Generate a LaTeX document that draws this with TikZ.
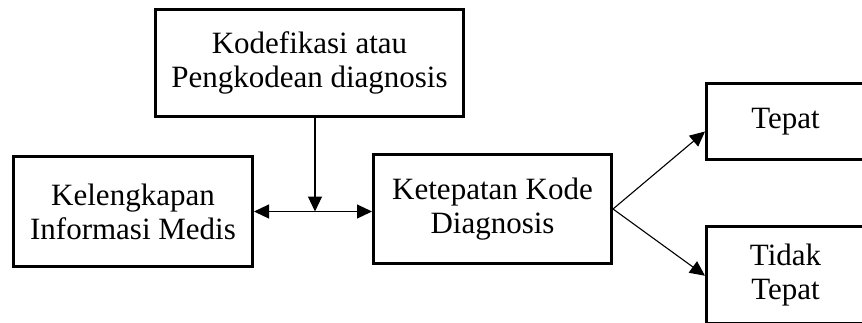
\documentclass[tikz,border=0pt]{standalone}
\usepackage{fontspec}
\setmainfont{Liberation Serif}
\usetikzlibrary{arrows.meta}
\tikzset{
  boxnode/.style={draw=black, line width=3pt, align=center, inner sep=0pt,
    font=\fontsize{31}{34}\selectfont},
  conn/.style={line width=1.1pt, -{Triangle[length=15pt,width=14pt]}},
}
\begin{document}
\begin{tikzpicture}[x=1pt,y=-1pt]
\useasboundingbox (0,0) rectangle (862,322);
\clip (0,0) rectangle (862,322);
\node[boxnode, minimum width=308pt, minimum height=107pt] (kode) at (309.5,63)
  {Kodefikasi atau\\Pengkodean diagnosis};
\node[boxnode, minimum width=239pt, minimum height=110pt] (kel) at (133,211.5)
  {Kelengkapan\\Informasi Medis};
\node[boxnode, minimum width=238pt, minimum height=109pt] (ket) at (492.5,209)
  {Ketepatan Kode\\Diagnosis};
\node[boxnode, minimum width=158pt, minimum height=76pt] (tepat) at (785.5,121.5)
  {Tepat};
\node[boxnode, minimum width=158pt, minimum height=96.5pt] (tidak) at (785.5,274.75)
  {Tidak\\Tepat};
\coordinate (j) at (315,211.5);
\draw[conn] (j |- kode.south) -- (j);
\draw[conn, {Triangle[length=15pt,width=14pt]}-{Triangle[length=15pt,width=14pt]}]
  (kel.east) -- (kel.east -| ket.west);
\draw[conn] (ket.east) -- ([yshift=-10pt]tepat.west);
\draw[conn] (ket.east) -- ([yshift=-1pt]tidak.west);
\end{tikzpicture}
\end{document}
